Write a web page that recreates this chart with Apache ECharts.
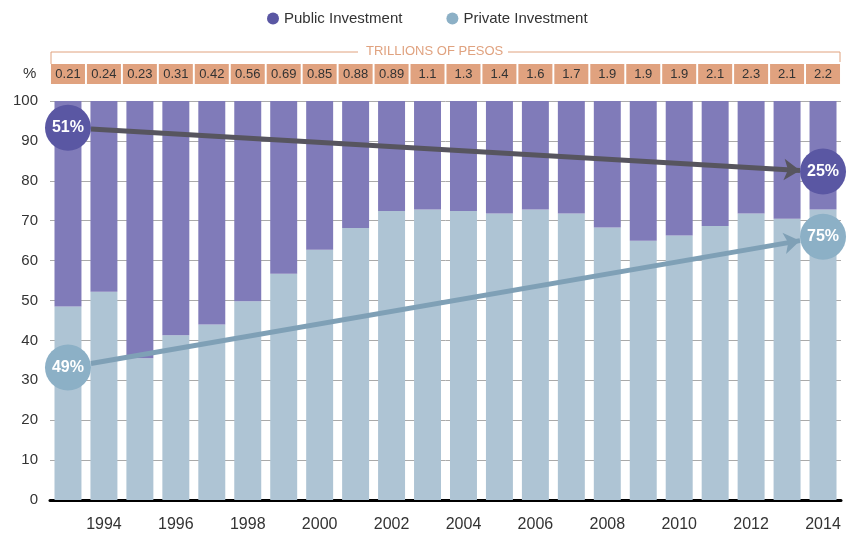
<!DOCTYPE html>
<html>
<head>
<meta charset="utf-8">
<script src="https://cdn.jsdelivr.net/npm/echarts@6/dist/echarts.min.js"></script>
<style>
  html, body { margin: 0; padding: 0; background: #fff; }
  #invest_chart { width: 848px; height: 533px; }
</style>
</head>
<body>
<div id="invest_chart"></div>
<script>
// 연도 (카테고리)
var years = ['1993', '1994', '1995', '1996', '1997', '1998', '1999', '2000', '2001', '2002', '2003',
             '2004', '2005', '2006', '2007', '2008', '2009', '2010', '2011', '2012', '2013', '2014'];
// 민간 투자 비율 (%)
var privateShare = [48.5, 52.2, 35.5, 41.3, 44.0, 49.8, 56.7, 62.7, 68.2, 72.4, 72.8,
                    72.4, 71.8, 72.8, 71.8, 68.3, 65.0, 66.3, 68.7, 71.8, 70.5, 72.8];
// 공공 투자 비율 (%)
var publicShare = [51.5, 47.8, 64.5, 58.7, 56.0, 50.2, 43.3, 37.3, 31.8, 27.6, 27.2,
                   27.6, 28.2, 27.2, 28.2, 31.7, 35.0, 33.7, 31.3, 28.2, 29.5, 27.2];
// 총 투자액 (조 페소)
var trillions = ['0.21', '0.24', '0.23', '0.31', '0.42', '0.56', '0.69', '0.85', '0.88', '0.89', '1.1',
                 '1.3', '1.4', '1.6', '1.7', '1.9', '1.9', '1.9', '2.1', '2.3', '2.1', '2.2'];
// 추세 원 (연도, 위치, 라벨)
var publicCircle = [[1993, 93.3, '51%'], [2014, 82.3, '25%']];
var privateCircle = [[1993, 33.2, '49%'], [2014, 66.0, '75%']];
// 추세 화살표 (시작, 끝)
var publicArrow = [[1993.64, 93.0], [2013.36, 82.6]];
var privateArrow = [[1993.64, 34.2], [2013.36, 65.0]];
var yTicks = [0, 100, 10];

var PUBLIC_BAR = '#807bb9', PRIVATE_BAR = '#aec4d4';
var PUBLIC_DOT = '#5a57a3', PRIVATE_DOT = '#8cb0c6';
var ORANGE = '#e0a27f';

function circleData(list, color) {
    return list.map(function (p) {
        return { value: [p[0], p[1]], name: p[2], itemStyle: { color: color, opacity: 1 } };
    });
}

var myChart = echarts.init(document.getElementById('invest_chart'));
var option = {
    animation: false,
    textStyle: { fontFamily: 'Liberation Sans, Helvetica, Arial, sans-serif' },
    legend: {
        left: 262,
        top: 6,
        icon: 'circle',
        itemWidth: 12,
        itemHeight: 12,
        itemGap: 44,
        textStyle: { fontSize: 15, color: '#333' },
        data: [
            { name: 'Public Investment', itemStyle: { color: PUBLIC_DOT } },
            { name: 'Private Investment', itemStyle: { color: PRIVATE_DOT } }
        ]
    },
    grid: { left: 50, right: 7, top: 101, bottom: 28 },
    xAxis: [{
        type: 'category',
        data: years,
        axisLine: { lineStyle: { color: '#000', width: 3 } },
        axisTick: { show: false },
        axisLabel: {
            interval: function (i) { return i % 2 === 1; },
            fontSize: 16, color: '#333', margin: 17
        }
    }, {
        type: 'category',
        position: 'top',
        data: years,
        axisLine: { show: false },
        axisTick: { alignWithLabel: true, length: 17, lineStyle: { color: ORANGE } },
        axisLabel: {
            interval: 0,
            margin: 17,
            formatter: function (v, i) { return trillions[i]; },
            backgroundColor: ORANGE,
            width: 34, height: 20, lineHeight: 20,
            align: 'center',
            fontSize: 13, color: '#333'
        }
    }, {
        type: 'value',
        min: 1992.5, max: 2014.5,
        show: false
    }],
    yAxis: [{
        type: 'value',
        min: yTicks[0], max: yTicks[1], interval: yTicks[2],
        axisLine: { show: false },
        axisTick: { show: false },
        axisLabel: { fontSize: 15, color: '#333', margin: 12 },
        splitLine: { lineStyle: { color: '#aaa' } }
    }],
    series: [{
        name: 'Private Investment',
        type: 'bar',
        stack: 'total',
        barCategoryGap: '25%',
        data: privateShare,
        itemStyle: { color: PRIVATE_BAR },
        z: 2
    }, {
        name: 'Public Investment',
        type: 'bar',
        stack: 'total',
        data: publicShare,
        itemStyle: { color: PUBLIC_BAR },
        z: 2
    }, {
        name: 'arrows',
        type: 'lines',
        coordinateSystem: 'cartesian2d',
        xAxisIndex: 2,
        symbol: ['none', 'arrow'],
        symbolSize: 16,
        z: 4,
        data: [
            { coords: publicArrow, lineStyle: { color: '#57555f', width: 5, opacity: 1 } },
            { coords: privateArrow, lineStyle: { color: '#7fa0b6', width: 5, opacity: 1 } }
        ]
    }, {
        name: 'circles',
        type: 'scatter',
        xAxisIndex: 2,
        symbolSize: 46,
        z: 5,
        itemStyle: { opacity: 1 },
        data: circleData(publicCircle, PUBLIC_DOT).concat(circleData(privateCircle, PRIVATE_DOT)),
        label: {
            show: true,
            position: 'inside',
            formatter: function (p) { return p.name; },
            color: '#fff', fontSize: 16, fontWeight: 'bold'
        }
    }],
    graphic: [{
        type: 'polyline',
        shape: { points: [[51, 64], [51, 52], [358, 52]] },
        style: { stroke: ORANGE, lineWidth: 1, fill: null }
    }, {
        type: 'polyline',
        shape: { points: [[508, 52], [840, 52], [840, 62]] },
        style: { stroke: ORANGE, lineWidth: 1, fill: null }
    }, {
        type: 'text',
        left: 366, top: 45,
        style: { text: 'TRILLIONS OF PESOS', fill: ORANGE, fontSize: 13,
                 fontFamily: 'Liberation Sans, Helvetica, Arial, sans-serif' }
    }, {
        type: 'text',
        left: 23, top: 66,
        style: { text: '%', fill: '#333', fontSize: 15,
                 fontFamily: 'Liberation Sans, Helvetica, Arial, sans-serif' }
    }]
};
myChart.setOption(option);
window.addEventListener('resize', myChart.resize);
</script>
</body>
</html>
